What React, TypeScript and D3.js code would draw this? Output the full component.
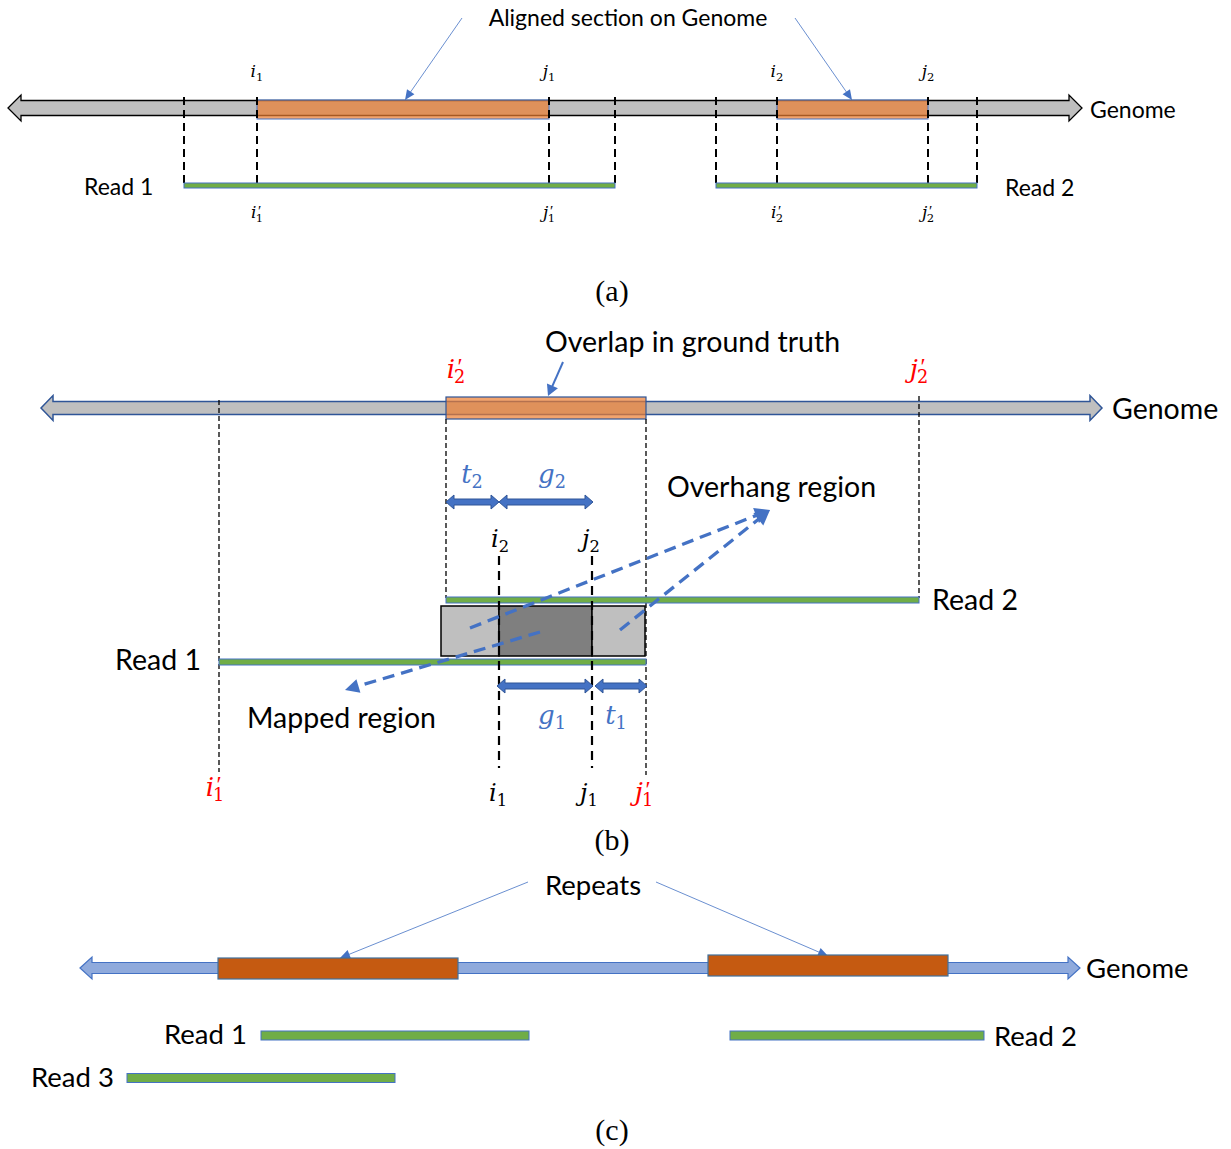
import React from "react";
import * as d3 from "d3";

const W = 1231;
const H = 1149;

// ---------- (a) reads aligned to the genome (genome coordinates) ----------
const genomeSpanA = [8, 1082];
const readNamesA = ["Read 1", "Read 2"];
const readIdxA = ["1", "2"];
const readStartA = [184, 716];
const readEndA = [615, 977];
const alignStartA = [257, 777];
const alignEndA = [549, 928];

// ---------- (b) overlap in ground truth vs. mapped overlap ----------
const genomeSpanB = [41, 1102];
const truthOverlapB = [446, 646]; // i'2 .. j'1
const read1B = [219, 646]; // i'1 .. j'1
const read2B = [446, 919]; // i'2 .. j'2
const mappedB = [499, 592]; // i .. j on both reads

// ---------- (c) repeats on the genome ----------
const genomeSpanC = [80, 1080];
const repeatStartC = [218, 708];
const repeatEndC = [458, 948];
const readNamesC = ["Read 1", "Read 2", "Read 3"];
const readStartC = [261, 730, 127];
const readEndC = [529, 984, 395];

const BLUE = "#4472C4";
const DARK_BLUE = "#2F5597";
const GREEN = "#70AD47";
const ORANGE = "#ED7D31";
const RUST = "#C55A11";
const GREY = "#BFBFBF";
const DARK_GREY = "#7F7F7F";
const LIGHT_BLUE = "#8FAADC";
const RED = "#FF0000";
const SANS = "Lato, 'Open Sans', sans-serif";
const MATH = "'DejaVu Serif', 'Liberation Serif', serif";
const CAPTION = "'Liberation Serif', serif";

const x = d3.scaleLinear().domain([0, W]).range([0, W]);

function genomePath(x0: number, x1: number, y: number, h: number, hh: number, len: number) {
  const p = d3.path();
  p.moveTo(x0, y);
  p.lineTo(x0 + len, y - hh);
  p.lineTo(x0 + len, y - h);
  p.lineTo(x1 - len, y - h);
  p.lineTo(x1 - len, y - hh);
  p.lineTo(x1, y);
  p.lineTo(x1 - len, y + hh);
  p.lineTo(x1 - len, y + h);
  p.lineTo(x0 + len, y + h);
  p.lineTo(x0 + len, y + hh);
  p.closePath();
  return p.toString();
}

function headPath(x0: number, y0: number, x1: number, y1: number, len: number, half: number) {
  const a = Math.atan2(y1 - y0, x1 - x0);
  const bx = x1 - len * Math.cos(a);
  const by = y1 - len * Math.sin(a);
  const nx = -Math.sin(a);
  const ny = Math.cos(a);
  const p = d3.path();
  p.moveTo(x1, y1);
  p.lineTo(bx + nx * half, by + ny * half);
  p.lineTo(bx - nx * half, by - ny * half);
  p.closePath();
  return p.toString();
}

function Pointer({ x0, y0, x1, y1, w = 0.8, len = 10, half = 4.5, dash }: any) {
  const a = Math.atan2(y1 - y0, x1 - x0);
  const ex = x1 - (len - 1) * Math.cos(a);
  const ey = y1 - (len - 1) * Math.sin(a);
  return (
    <g>
      <line x1={x0} y1={y0} x2={ex} y2={ey} stroke={BLUE} strokeWidth={w} strokeDasharray={dash} />
      <path d={headPath(x0, y0, x1, y1, len, half)} fill={BLUE} />
    </g>
  );
}

function DoubleArrow({ x0, x1, y }: any) {
  return (
    <path
      d={genomePath(x0, x1, y, 3, 7, 8)}
      fill={BLUE}
      stroke={DARK_BLUE}
      strokeWidth={1}
    />
  );
}

// Italic symbol with a subscript and an optional prime stacked above it
function MathLabel({ cx, cy, base, sub, prime, size, color = "#000" }: any) {
  const baseline = cy + size * 0.25;
  const primeSize = size * 0.9;
  const primeW = primeSize * 0.3;
  return (
    <text x={cx} y={baseline} textAnchor="middle" fill={color} fontFamily={MATH} fontSize={size}>
      <tspan fontStyle="italic">{base}</tspan>
      {prime ? (
        <>
          <tspan fontFamily="'Liberation Serif', serif" fontSize={primeSize} dx={size * 0.1} dy={-size * 0.14}>
            ′
          </tspan>
          <tspan fontSize={size * 0.68} dx={-primeW - size * 0.06} dy={size * 0.36}>
            {sub}
          </tspan>
        </>
      ) : (
        <tspan fontSize={size * 0.68} dy={size * 0.2}>
          {sub}
        </tspan>
      )}
    </text>
  );
}

function VDash({ xv, y0, y1, w, dash }: any) {
  return <line x1={xv} x2={xv} y1={y0} y2={y1} stroke="#000" strokeWidth={w} strokeDasharray={dash} />;
}

function ReadBar({ x0, x1, y, h }: any) {
  return <rect x={x0} y={y - h / 2} width={x1 - x0} height={h} fill={GREEN} stroke={BLUE} strokeWidth={1} />;
}

function PanelA() {
  const gy = 108;
  const ry = 185.5;
  const fs = 23;
  return (
    <g>
      <text x={628} y={26} textAnchor="middle" fontFamily={SANS} fontSize={fs}>
        Aligned section on Genome
      </text>
      <Pointer x0={462} y0={18} x1={x(alignStartA[0] + 148)} y1={100} />
      <Pointer x0={795} y0={18} x1={x(alignStartA[1] + 75)} y1={100} />
      <path
        d={genomePath(x(genomeSpanA[0]), x(genomeSpanA[1]), gy, 7.5, 13, 13)}
        fill={GREY}
        stroke="#000"
        strokeWidth={1.3}
      />
      {readNamesA.map((name, i) => {
        const xs = x(readStartA[i]);
        const xe = x(readEndA[i]);
        const a0 = x(alignStartA[i]);
        const a1 = x(alignEndA[i]);
        return (
          <g key={name}>
            <rect
              x={a0}
              y={100}
              width={a1 - a0}
              height={19}
              fill={ORANGE}
              fillOpacity={0.7}
              stroke={BLUE}
              strokeWidth={1}
            />
            {[xs, a0, a1, xe].map((v, k) => (
              <VDash key={k} xv={v} y0={97} y1={188} w={2} dash="8 5" />
            ))}
            <ReadBar x0={xs} x1={xe} y={ry} h={5} />
            <MathLabel cx={a0} cy={73} base="i" sub={readIdxA[i]} size={17} />
            <MathLabel cx={a1} cy={73} base="j" sub={readIdxA[i]} size={17} />
            <MathLabel cx={a0} cy={214} base="i" sub={readIdxA[i]} prime size={17} />
            <MathLabel cx={a1} cy={214} base="j" sub={readIdxA[i]} prime size={17} />
          </g>
        );
      })}
      <text x={84} y={195} fontFamily={SANS} fontSize={fs}>
        {readNamesA[0]}
      </text>
      <text x={1005} y={196} fontFamily={SANS} fontSize={fs}>
        {readNamesA[1]}
      </text>
      <text x={1090} y={118} fontFamily={SANS} fontSize={fs}>
        Genome
      </text>
      <text x={612} y={301} textAnchor="middle" fontFamily={CAPTION} fontSize={30}>
        (a)
      </text>
    </g>
  );
}

function PanelB() {
  const gy = 408;
  const r2y = 600;
  const r1y = 662;
  const fs = 28.5;
  const xi1p = x(read1B[0]);
  const xj1p = x(read1B[1]);
  const xi2p = x(read2B[0]);
  const xj2p = x(read2B[1]);
  const xi = x(mappedB[0]);
  const xj = x(mappedB[1]);
  const o0 = x(truthOverlapB[0]);
  const o1 = x(truthOverlapB[1]);
  const tip = [770, 510];
  return (
    <g>
      <text x={545} y={352} fontFamily={SANS} fontSize={fs}>
        Overlap in ground truth
      </text>
      <Pointer x0={563} y0={362} x1={548} y1={396} w={2} len={11} half={6} />
      <path
        d={genomePath(x(genomeSpanB[0]), x(genomeSpanB[1]), gy, 6.5, 12.5, 12)}
        fill={GREY}
        stroke={DARK_BLUE}
        strokeWidth={1.5}
      />
      <rect
        x={o0}
        y={397}
        width={o1 - o0}
        height={22}
        fill={ORANGE}
        fillOpacity={0.7}
        stroke={DARK_BLUE}
        strokeWidth={1.2}
      />
      <text x={1112} y={419} fontFamily={SANS} fontSize={fs}>
        Genome
      </text>
      <MathLabel cx={xi2p + 10} cy={371} base="i" sub="2" prime size={26} color={RED} />
      <MathLabel cx={xj2p} cy={371} base="j" sub="2" prime size={26} color={RED} />

      <VDash xv={xi1p} y0={400} y1={772} w={1.3} dash="5 3" />
      <VDash xv={xi2p} y0={419} y1={598} w={1.3} dash="5 3" />
      <VDash xv={xj1p} y0={419} y1={775} w={1.3} dash="5 3" />
      <VDash xv={xj2p} y0={396} y1={598} w={1.3} dash="5 3" />

      <DoubleArrow x0={xi2p} x1={xi} y={502} />
      <DoubleArrow x0={xi} x1={xj + 1} y={502} />
      <MathLabel cx={472} cy={476} base="t" sub="2" size={26} color={BLUE} />
      <MathLabel cx={552} cy={476} base="g" sub="2" size={26} color={BLUE} />
      <MathLabel cx={500} cy={541} base="i" sub="2" size={24} />
      <MathLabel cx={591} cy={541} base="j" sub="2" size={24} />

      <ReadBar x0={xi2p} x1={xj2p} y={r2y} h={6} />
      <rect x={441} y={606} width={xi - 441} height={50} fill={GREY} stroke="#000" strokeWidth={1.5} />
      <rect x={xi} y={606} width={xj - xi} height={50} fill={DARK_GREY} stroke="#000" strokeWidth={1.5} />
      <rect x={xj} y={606} width={645 - xj} height={50} fill={GREY} stroke="#000" strokeWidth={1.5} />
      <ReadBar x0={xi1p} x1={xj1p} y={r1y} h={6} />

      <VDash xv={xi} y0={556} y1={768} w={2.2} dash="9 6" />
      <VDash xv={xj} y0={556} y1={768} w={2.2} dash="9 6" />

      <DoubleArrow x0={xi - 2} x1={xj + 1} y={686} />
      <DoubleArrow x0={xj + 3} x1={xj1p + 1} y={686} />
      <MathLabel cx={552} cy={717} base="g" sub="1" size={26} color={BLUE} />
      <MathLabel cx={616} cy={717} base="t" sub="1" size={26} color={BLUE} />

      <Pointer x0={470} y0={628} x1={tip[0]} y1={tip[1]} w={3.3} len={15} half={8} dash="12 7" />
      <Pointer x0={620} y0={630} x1={tip[0]} y1={tip[1]} w={3.3} len={15} half={8} dash="12 7" />
      <Pointer x0={540} y0={632} x1={345} y1={690} w={3.3} len={14} half={7} dash="12 7" />

      <text x={667} y={497} fontFamily={SANS} fontSize={fs}>
        Overhang region
      </text>
      <text x={247} y={728} fontFamily={SANS} fontSize={fs}>
        Mapped region
      </text>
      <text x={115} y={670} fontFamily={SANS} fontSize={fs}>
        Read 1
      </text>
      <text x={932} y={610} fontFamily={SANS} fontSize={fs}>
        Read 2
      </text>

      <MathLabel cx={xi1p - 4} cy={789} base="i" sub="1" prime size={26} color={RED} />
      <MathLabel cx={xi - 1} cy={795} base="i" sub="1" size={24} />
      <MathLabel cx={xj - 3} cy={795} base="j" sub="1" size={24} />
      <MathLabel cx={xj1p - 2} cy={794} base="j" sub="1" prime size={26} color={RED} />

      <text x={612} y={850} textAnchor="middle" fontFamily={CAPTION} fontSize={30}>
        (b)
      </text>
    </g>
  );
}

function PanelC() {
  const gy = 968;
  const fs = 27.5;
  const readY = [1035.5, 1035.5, 1078];
  return (
    <g>
      <text x={545} y={895} fontFamily={SANS} fontSize={fs}>
        Repeats
      </text>
      <Pointer x0={528} y0={882} x1={340} y1={958} />
      <Pointer x0={656} y0={882} x1={828} y1={956} />
      <path
        d={genomePath(x(genomeSpanC[0]), x(genomeSpanC[1]), gy, 5.5, 11, 12)}
        fill={LIGHT_BLUE}
        stroke={BLUE}
        strokeWidth={1.2}
      />
      {repeatStartC.map((s, i) => (
        <rect
          key={i}
          x={x(s)}
          y={i === 0 ? 958 : 955}
          width={x(repeatEndC[i]) - x(s)}
          height={21}
          fill={RUST}
          stroke="#41719C"
          strokeWidth={1.2}
        />
      ))}
      <text x={1086} y={978} fontFamily={SANS} fontSize={fs}>
        Genome
      </text>
      {readNamesC.map((name, i) => (
        <ReadBar key={name} x0={x(readStartC[i])} x1={x(readEndC[i])} y={readY[i]} h={9} />
      ))}
      <text x={164} y={1044} fontFamily={SANS} fontSize={fs}>
        {readNamesC[0]}
      </text>
      <text x={994} y={1046} fontFamily={SANS} fontSize={fs}>
        {readNamesC[1]}
      </text>
      <text x={31} y={1087} fontFamily={SANS} fontSize={fs}>
        {readNamesC[2]}
      </text>
      <text x={612} y={1140} textAnchor="middle" fontFamily={CAPTION} fontSize={30}>
        (c)
      </text>
    </g>
  );
}

export default function App() {
  return (
    <div style={{ position: "absolute", left: 0, top: 0 }}>
      <svg width={W} height={H} viewBox={`0 0 ${W} ${H}`} style={{ display: "block", background: "#fff" }}>
        <PanelA />
        <PanelB />
        <PanelC />
      </svg>
    </div>
  );
}
